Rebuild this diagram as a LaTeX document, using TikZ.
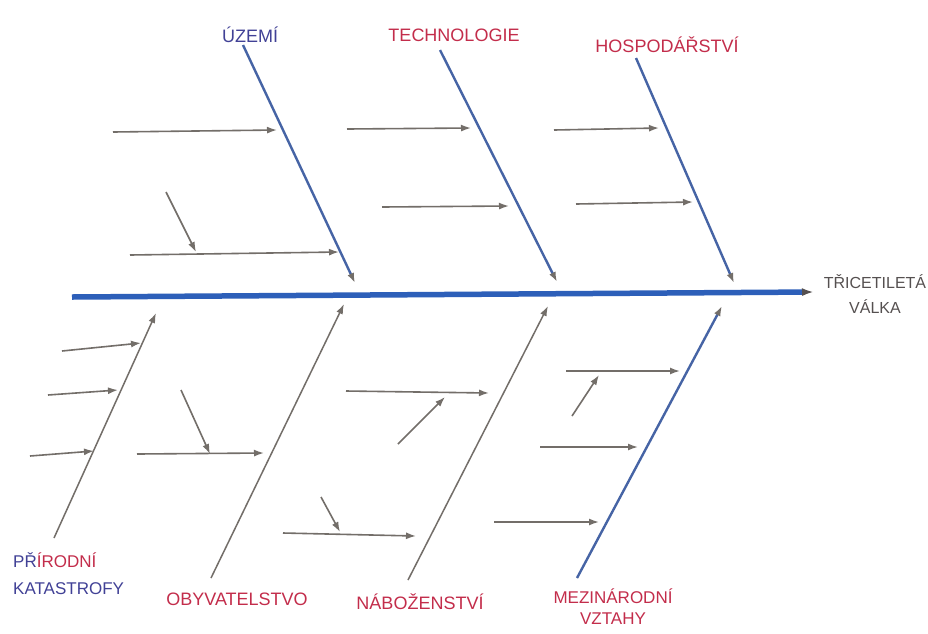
\documentclass[tikz,border=0pt]{standalone}
\usepackage{fontspec}
\setmainfont{Liberation Sans}
\usetikzlibrary{arrows.meta}
\definecolor{spineblue}{RGB}{45,95,185}
\definecolor{boneblue}{RGB}{70,100,165}
\definecolor{pencil}{RGB}{115,110,105}
\definecolor{inkred}{RGB}{195,45,75}
\definecolor{inkblue}{RGB}{65,65,150}
\definecolor{inkgray}{RGB}{85,80,80}
\begin{document}
\begin{tikzpicture}[x=1pt,y=-1pt,
  spine/.style={draw=spineblue,line width=5.5pt,-{Latex[color=inkgray,length=12pt,width=8pt]}},
  bluebone/.style={draw=boneblue,line width=2.4pt,-{Latex[color=pencil,length=10pt,width=7pt]}},
  graybone/.style={draw=pencil,line width=1.5pt,-{Latex[length=10pt,width=7pt]}},
  cause/.style={draw=pencil,line width=1.6pt,-{Latex[length=10pt,width=7pt]}},
  catlabel/.style={font=\fontsize{18}{26}\selectfont,text=inkred,align=center,inner sep=1pt}]
  \useasboundingbox[fill=white] (0,0) rectangle (928,633);

  \node[catlabel,text=inkblue] (uzemi) at (250,35) {ÚZEMÍ};
  \node[catlabel] (tech) at (454,35) {TECHNOLOGIE};
  \node[catlabel] (hosp) at (667,45) {HOSPODÁŘSTVÍ};
  \node[catlabel,text=inkgray,font=\fontsize{16}{25}\selectfont] (valka) at (875,294) {TŘICETILETÁ\\VÁLKA};
  \node[catlabel,align=left,anchor=west,font=\fontsize{17}{27}\selectfont] (prir) at (12,574) {{\color{inkblue}PŘ}ÍRODNÍ\\{\color{inkblue}KATASTROFY}};
  \node[catlabel] (obyv) at (237,599) {OBYVATELSTVO};
  \node[catlabel] (nab) at (420,602) {NÁBOŽENSTVÍ};
  \node[catlabel,font=\fontsize{17}{21}\selectfont] (mezi) at (613,607) {MEZINÁRODNÍ\\VZTAHY};

  \coordinate (tail) at (72,297);
  \coordinate (head) at (814,292);
  \draw[spine] (tail) -- (head);

  \path (243,45) coordinate (uz-a) (355,283) coordinate (uz-b)
        (440,50) coordinate (te-a) (557,282) coordinate (te-b)
        (636,58) coordinate (ho-a) (734,283) coordinate (ho-b)
        (54,538) coordinate (pk-a) (156,313) coordinate (pk-b)
        (211,578) coordinate (ob-a) (344,304) coordinate (ob-b)
        (408,580) coordinate (na-a) (548,306) coordinate (na-b)
        (577,578) coordinate (me-a) (722,306) coordinate (me-b);
  \draw[bluebone] (uz-a) -- (uz-b);
  \draw[bluebone] (te-a) -- (te-b);
  \draw[bluebone] (ho-a) -- (ho-b);
  \draw[graybone] (pk-a) -- (pk-b);
  \draw[graybone] (ob-a) -- (ob-b);
  \draw[graybone] (na-a) -- (na-b);
  \draw[bluebone] (me-a) -- (me-b);

  \path (113,132) coordinate (uz1a) (277,130) coordinate (uz1b)
        (130,255) coordinate (uz2a) (339,252) coordinate (uz2b)
        (166,192) coordinate (uz3a) (196,252) coordinate (uz3b)
        (347,129) coordinate (te1a) (471,128) coordinate (te1b)
        (382,207) coordinate (te2a) (509,206) coordinate (te2b)
        (554,130) coordinate (ho1a) (659,128) coordinate (ho1b)
        (576,204) coordinate (ho2a) (693,202) coordinate (ho2b);
  \draw[cause] (uz1a) -- (uz1b);
  \draw[cause] (uz2a) -- (uz2b);
  \draw[cause] (uz3a) -- (uz3b);
  \draw[cause] (te1a) -- (te1b);
  \draw[cause] (te2a) -- (te2b);
  \draw[cause] (ho1a) -- (ho1b);
  \draw[cause] (ho2a) -- (ho2b);

  \path (62,351) coordinate (pk1a) (141,343) coordinate (pk1b)
        (48,395) coordinate (pk2a) (118,390) coordinate (pk2b)
        (30,456) coordinate (pk3a) (94,451) coordinate (pk3b)
        (137,454) coordinate (ob1a) (264,453) coordinate (ob1b)
        (181,390) coordinate (ob2a) (210,454) coordinate (ob2b)
        (346,391) coordinate (na1a) (489,393) coordinate (na1b)
        (398,444) coordinate (na2a) (445,397) coordinate (na2b)
        (283,533) coordinate (na3a) (416,536) coordinate (na3b)
        (321,497) coordinate (na4a) (340,532) coordinate (na4b)
        (566,371) coordinate (me1a) (680,371) coordinate (me1b)
        (572,416) coordinate (me2a) (599,375) coordinate (me2b)
        (540,447) coordinate (me3a) (638,447) coordinate (me3b)
        (494,522) coordinate (me4a) (599,522) coordinate (me4b);
  \draw[cause] (pk1a) -- (pk1b);
  \draw[cause] (pk2a) -- (pk2b);
  \draw[cause] (pk3a) -- (pk3b);
  \draw[cause] (ob1a) -- (ob1b);
  \draw[cause] (ob2a) -- (ob2b);
  \draw[cause] (na1a) -- (na1b);
  \draw[cause] (na2a) -- (na2b);
  \draw[cause] (na3a) -- (na3b);
  \draw[cause] (na4a) -- (na4b);
  \draw[cause] (me1a) -- (me1b);
  \draw[cause] (me2a) -- (me2b);
  \draw[cause] (me3a) -- (me3b);
  \draw[cause] (me4a) -- (me4b);
\end{tikzpicture}
\end{document}
